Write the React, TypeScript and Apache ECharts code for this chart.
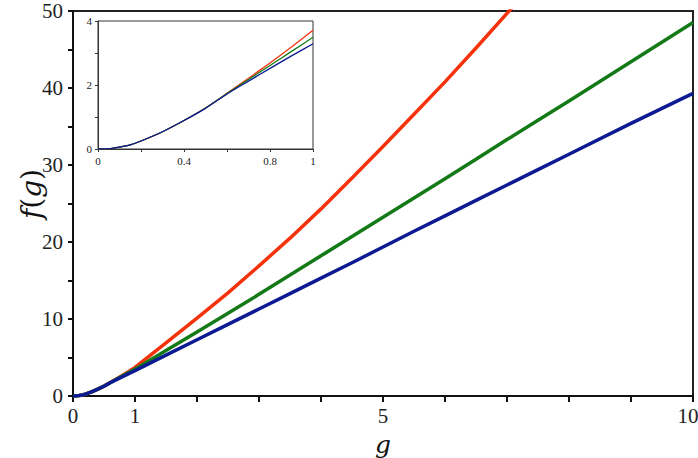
import React, { useEffect, useRef } from "react";
import * as echarts from "echarts";

// g sample points
const gValues = [0, 0.05, 0.1, 0.15, 0.2, 0.3, 0.4, 0.5, 0.6, 0.7, 0.8, 0.9, 1, 1.5, 2, 2.5, 3, 3.5, 4, 4.5, 5, 5.5, 6, 6.5, 7, 7.5, 8, 9, 10];
// f(g) for each curve (red stops once it leaves the plot)
const redF = [0, 0.01, 0.06, 0.13, 0.25, 0.54, 0.89, 1.28, 1.74, 2.21, 2.69, 3.19, 3.71, 6.9, 10.1, 13.4, 16.9, 20.5, 24.3, 28.3, 32.4, 36.6, 40.8, 45.2, 49.7, 54.2];
const greenF = [0, 0.01, 0.06, 0.13, 0.25, 0.54, 0.89, 1.28, 1.73, 2.17, 2.61, 3.05, 3.49, 5.9, 8.3, 10.75, 13.2, 15.7, 18.2, 20.7, 23.2, 25.7, 28.2, 30.75, 33.3, 35.8, 38.3, 43.4, 48.5];
const blueF = [0, 0.01, 0.06, 0.13, 0.25, 0.54, 0.89, 1.27, 1.72, 2.12, 2.52, 2.91, 3.29, 5.3, 7.3, 9.3, 11.3, 13.3, 15.3, 17.3, 19.35, 21.4, 23.4, 25.4, 27.4, 29.4, 31.4, 35.4, 39.3];

const xLabelValues = [0, 1, 5, 10];
const yLabelValues = [0, 10, 20, 30, 40, 50];
const insetXLabelValues = [0, 0.4, 0.8, 1];
const insetYLabelValues = [0, 2, 4];

const RED = "#f4320c";
const GREEN = "#137a17";
const BLUE = "#0d1b93";
const SERIF = "Liberation Serif";
const ITALIC_FONT = "italic 28px DejaVu Serif";
const UPRIGHT_FONT = "28px DejaVu Serif";
const G_FONT = "italic 25px DejaVu Serif";

function pairs(vals: number[], maxG: number) {
  const out: number[][] = [];
  for (let i = 0; i < vals.length; i++) {
    if (gValues[i] <= maxG + 1e-9) out.push([gValues[i], vals[i]]);
  }
  return out;
}

function near(list: number[], v: number) {
  return list.some((x) => Math.abs(x - v) < 1e-6);
}

export default function App() {
  const ref = useRef<HTMLDivElement>(null);
  useEffect(() => {
    if (!ref.current) return;
    const chart = echarts.init(ref.current, null, { renderer: "svg" });
    const curves = [
      { name: "red", color: RED, vals: redF },
      { name: "green", color: GREEN, vals: greenF },
      { name: "blue", color: BLUE, vals: blueF },
    ];
    const mainSeries = curves.map((c) => ({
      type: "line",
      name: c.name,
      xAxisIndex: 0,
      yAxisIndex: 0,
      data: pairs(c.vals, 100),
      showSymbol: false,
      smooth: false,
      clip: true,
      lineStyle: { color: c.color, width: 3.5, join: "round" },
    }));
    const insetSeries = curves.map((c) => ({
      type: "line",
      name: c.name + "-inset",
      xAxisIndex: 1,
      yAxisIndex: 1,
      data: pairs(c.vals, 1),
      showSymbol: false,
      smooth: 0.2,
      clip: true,
      z: 4,
      lineStyle: { color: c.color, width: 1.3 },
    }));
    chart.setOption({
      animation: false,
      backgroundColor: "#ffffff",
      grid: [
        { left: 73, top: 11, right: 5, bottom: 62, show: true, borderColor: "#222", borderWidth: 2, backgroundColor: "transparent", containLabel: false, outerBoundsMode: "none" },
        { left: 98, top: 21, width: 215, height: 128, show: true, borderColor: "#333", borderWidth: 1, backgroundColor: "#ffffff", containLabel: false, outerBoundsMode: "none" },
      ],
      graphic: [
        {
          type: "text",
          x: 383,
          y: 444,
          style: { text: "g", font: G_FONT, lineHeight: 18, fill: "#111", align: "center", verticalAlign: "middle" },
        },
        {
          type: "text",
          x: 31,
          y: 194,
          rotation: Math.PI / 2,
          style: {
            text: "{i|f}{n|(}{i|g}{n|)}",
            font: UPRIGHT_FONT,
            fill: "#111",
            align: "center",
            verticalAlign: "middle",
            rich: {
              i: { font: ITALIC_FONT, fill: "#111" },
              n: { font: UPRIGHT_FONT, fill: "#111" },
            },
          },
        },
      ],
      xAxis: [
        {
          type: "value",
          gridIndex: 0,
          min: 0,
          max: 10,
          interval: 1,
          axisLine: { show: true, lineStyle: { color: "#111", width: 2 } },
          axisTick: { show: true, inside: false, length: 6, lineStyle: { color: "#111", width: 2 } },
          axisLabel: {
            show: true,
            margin: 9,
            fontFamily: SERIF,
            fontSize: 21,
            lineHeight: 21,
            color: "#222",
            showMinLabel: true,
            showMaxLabel: true,
            formatter: (v: number) => {
              if (!near(xLabelValues, v)) return "";
              if (Math.abs(v - 10) < 1e-6) return "{r|" + String(v) + "}";
              return String(v);
            },
            rich: { r: { fontFamily: SERIF, fontSize: 21, lineHeight: 21, color: "#222", padding: [0, 10, 0, 0] } },
          },
          splitLine: { show: false },
        },
        {
          type: "value",
          gridIndex: 1,
          min: 0,
          max: 1,
          interval: 0.2,
          axisLine: { show: true, lineStyle: { color: "#333", width: 1 } },
          axisTick: { show: true, inside: false, length: 3, lineStyle: { color: "#333", width: 1 } },
          axisLabel: {
            show: true,
            margin: 6,
            fontFamily: SERIF,
            fontSize: 11,
            color: "#222",
            showMinLabel: true,
            showMaxLabel: true,
            formatter: (v: number) => (near(insetXLabelValues, v) ? String(Math.round(v * 10) / 10) : ""),
          },
          splitLine: { show: false },
        },
      ],
      yAxis: [
        {
          type: "value",
          gridIndex: 0,
          min: 0,
          max: 50,
          interval: 5,
          axisLine: { show: true, lineStyle: { color: "#111", width: 2 } },
          axisTick: { show: true, inside: false, length: 5, lineStyle: { color: "#111", width: 2 } },
          axisLabel: {
            show: true,
            margin: 10,
            fontFamily: SERIF,
            fontSize: 21,
            color: "#222",
            showMinLabel: true,
            showMaxLabel: true,
            formatter: (v: number) => (near(yLabelValues, v) ? String(v) : ""),
          },
          splitLine: { show: false },
        },
        {
          type: "value",
          gridIndex: 1,
          min: 0,
          max: 4,
          interval: 1,
          axisLine: { show: true, lineStyle: { color: "#333", width: 1 } },
          axisTick: { show: true, inside: false, length: 3, lineStyle: { color: "#333", width: 1 } },
          axisLabel: {
            show: true,
            margin: 6,
            fontFamily: SERIF,
            fontSize: 11,
            color: "#222",
            showMinLabel: true,
            showMaxLabel: true,
            formatter: (v: number) => (near(insetYLabelValues, v) ? String(v) : ""),
          },
          splitLine: { show: false },
        },
      ],
      series: [...mainSeries, ...insetSeries],
    });
    return () => chart.dispose();
  }, []);
  return (
    <div
      ref={ref}
      style={{ position: "fixed", left: 0, top: 0, width: 698, height: 458, background: "#fff" }}
    />
  );
}
